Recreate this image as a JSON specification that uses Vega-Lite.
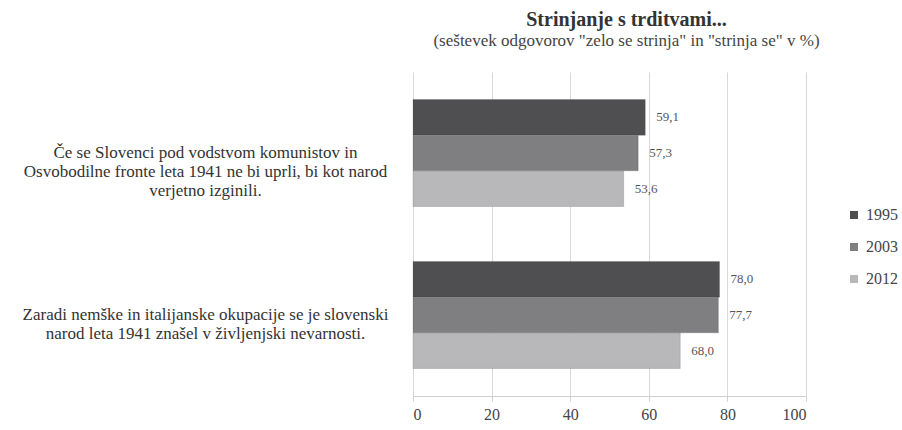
{
  "$schema": "https://vega.github.io/schema/vega-lite/v6.json",
  "width": 393,
  "height": 324,
  "autosize": "none",
  "padding": {"left": 413, "top": 72, "right": 96, "bottom": 34},
  "background": "white",
  "config": {
    "font": "Liberation Serif",
    "axis": {"labelFont": "Liberation Serif"},
    "legend": {"labelFont": "Liberation Serif"},
    "text": {"font": "Liberation Serif"},
    "view": {"stroke": null},
    "locale": {"number": {"decimal": ",", "thousands": ".", "grouping": [3], "currency": ["", " €"]}}
  },
  "title": {
    "text": "Strinjanje  s trditvami...",
    "subtitle": "(seštevek odgovorov \"zelo se strinja\" in \"strinja se\" v %)",
    "anchor": "middle",
    "dx": 17,
    "offset": 23,
    "font": "Liberation Serif",
    "fontSize": 20,
    "fontWeight": "bold",
    "color": "#333333",
    "subtitleFont": "Liberation Serif",
    "subtitleFontSize": 17,
    "subtitleColor": "#444444",
    "subtitlePadding": 3
  },
  "data": {
    "values": [
      {"trditev": "Če se Slovenci pod vodstvom komunistov in\nOsvobodilne fronte leta 1941 ne bi uprli, bi kot narod\nverjetno izginili.", "leto": "1995", "odstotek": 59.1},
      {"trditev": "Če se Slovenci pod vodstvom komunistov in\nOsvobodilne fronte leta 1941 ne bi uprli, bi kot narod\nverjetno izginili.", "leto": "2003", "odstotek": 57.3},
      {"trditev": "Če se Slovenci pod vodstvom komunistov in\nOsvobodilne fronte leta 1941 ne bi uprli, bi kot narod\nverjetno izginili.", "leto": "2012", "odstotek": 53.6},
      {"trditev": "Zaradi nemške in italijanske okupacije se je slovenski\nnarod leta 1941 znašel v življenjski nevarnosti.", "leto": "1995", "odstotek": 78.0},
      {"trditev": "Zaradi nemške in italijanske okupacije se je slovenski\nnarod leta 1941 znašel v življenjski nevarnosti.", "leto": "2003", "odstotek": 77.7},
      {"trditev": "Zaradi nemške in italijanske okupacije se je slovenski\nnarod leta 1941 znašel v življenjski nevarnosti.", "leto": "2012", "odstotek": 68.0}
    ]
  },
  "encoding": {
    "y": {
      "field": "trditev",
      "type": "nominal",
      "sort": null,
      "title": null,
      "scale": {"paddingInner": 0.34, "paddingOuter": 0.17},
      "axis": {
        "domain": false,
        "ticks": false,
        "labelAlign": "center",
        "labelBaseline": "middle",
        "labelPadding": 208,
        "labelLimit": 0,
        "labelFont": "Liberation Serif",
        "labelFontSize": 17,
        "labelColor": "#333333",
        "labelLineHeight": 19,
        "labelExpr": "split(datum.label, '\\n')"
      }
    },
    "yOffset": {"field": "leto", "type": "nominal", "sort": ["1995", "2003", "2012"]},
    "x": {
      "field": "odstotek",
      "type": "quantitative",
      "title": null,
      "scale": {"domain": [0, 100]},
      "axis": {
        "values": [0, 20, 40, 60, 80, 100],
        "grid": true,
        "gridColor": "#d9d9d9",
        "domainColor": "#d0d0d0",
        "tickColor": "#d0d0d0",
        "tickSize": 5,
        "labelFont": "Liberation Serif",
        "labelFontSize": 16,
        "labelColor": "#444444",
        "labelPadding": 5,
        "format": "d"
      }
    }
  },
  "layer": [
    {
      "mark": {"type": "bar", "stroke": "#3a3a3a", "strokeWidth": 0.5, "strokeOpacity": 0.4},
      "encoding": {
        "color": {
          "field": "leto",
          "type": "nominal",
          "scale": {"domain": ["1995", "2003", "2012"], "range": ["#4f4f51", "#7f7f81", "#b8b8ba"]},
          "legend": {
            "title": null,
            "orient": "none",
            "legendX": 433,
            "legendY": 135,
            "symbolType": "square",
            "symbolSize": 64,
            "symbolStrokeWidth": 0,
            "labelFont": "Liberation Serif",
            "labelFontSize": 16,
            "labelColor": "#444444",
            "rowPadding": 16,
            "labelOffset": 4
          }
        }
      }
    },
    {
      "mark": {"type": "text", "font": "Liberation Serif", "align": "left", "baseline": "middle", "dx": 11, "fontSize": 13, "color": "#555555"},
      "encoding": {
        "text": {"field": "odstotek", "type": "quantitative", "format": ".1f"}
      }
    }
  ]
}
